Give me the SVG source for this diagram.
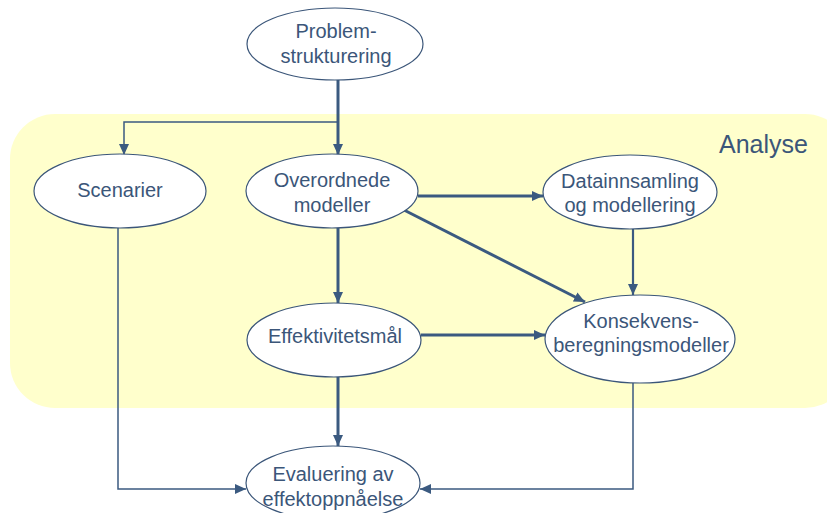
<svg xmlns="http://www.w3.org/2000/svg" width="827" height="513" viewBox="0 0 827 513">
<style>
.node ellipse{fill:#ffffff;stroke:#3b5679;stroke-width:1.2}
.node text{font-family:"Liberation Sans",Arial,sans-serif;font-size:20px;fill:#3b5679;text-anchor:middle}
.c{fill:none;stroke:#3b5a80}
.thick{stroke-width:3}
.mid{stroke-width:2.2}
.thin{stroke-width:1.5}
</style>
<defs>
<marker id="ah" markerUnits="userSpaceOnUse" markerWidth="12" markerHeight="12" viewBox="0 0 12 12" refX="11" refY="6" orient="auto">
<path d="M0,1 L11,6 L0,11 Z" fill="#3b5a80"/>
</marker>
</defs>
<rect x="10" y="114" width="840" height="294" rx="45" ry="45" fill="#ffffcc"/>
<text x="719" y="153" style="font-family:'Liberation Sans',Arial,sans-serif;font-size:25px;fill:#3b5679">Analyse</text>
<g id="connectors">
<path class="c thick" d="M338,80 V155" marker-end="url(#ah)"/>
<path class="c thin" d="M338,122 H124 V155" marker-end="url(#ah)"/>
<path class="c thick" d="M418,196 H543" marker-end="url(#ah)"/>
<path class="c thick" d="M402,209 L585,302" marker-end="url(#ah)"/>
<path class="c mid" d="M633,229 V295" marker-end="url(#ah)"/>
<path class="c thick" d="M338,228 V303" marker-end="url(#ah)"/>
<path class="c thick" d="M421,335 H545" marker-end="url(#ah)"/>
<path class="c thick" d="M338,377 V446" marker-end="url(#ah)"/>
<path class="c thin" d="M118,228 V489 H246" marker-end="url(#ah)"/>
<path class="c thin" d="M633,383 V489 H420" marker-end="url(#ah)"/>
</g>
<g id="problemstrukturering" class="node">
<ellipse cx="335" cy="44" rx="88" ry="36"/>
<text x="336" y="38">Problem-</text>
<text x="336" y="63">strukturering</text>
</g>
<g id="scenarier" class="node">
<ellipse cx="120" cy="191" rx="86" ry="37"/>
<text x="120" y="197">Scenarier</text>
</g>
<g id="overordnede" class="node">
<ellipse cx="332" cy="191" rx="86" ry="37"/>
<text x="332" y="187">Overordnede</text>
<text x="332" y="212">modeller</text>
</g>
<g id="datainnsamling" class="node">
<ellipse cx="630" cy="192" rx="87" ry="37"/>
<text x="630" y="188">Datainnsamling</text>
<text x="630" y="212">og modellering</text>
</g>
<g id="effektivitetsmal" class="node">
<ellipse cx="334" cy="340" rx="87" ry="37"/>
<text x="335" y="343">Effektivitetsmål</text>
</g>
<g id="konsekvens" class="node">
<ellipse cx="640" cy="339" rx="95" ry="44"/>
<text x="641" y="328">Konsekvens-</text>
<text x="641" y="352">beregningsmodeller</text>
</g>
<g id="evaluering" class="node">
<ellipse cx="333" cy="483" rx="87" ry="37"/>
<text x="333" y="481">Evaluering av</text>
<text x="333" y="506">effektoppnåelse</text>
</g>
</svg>
